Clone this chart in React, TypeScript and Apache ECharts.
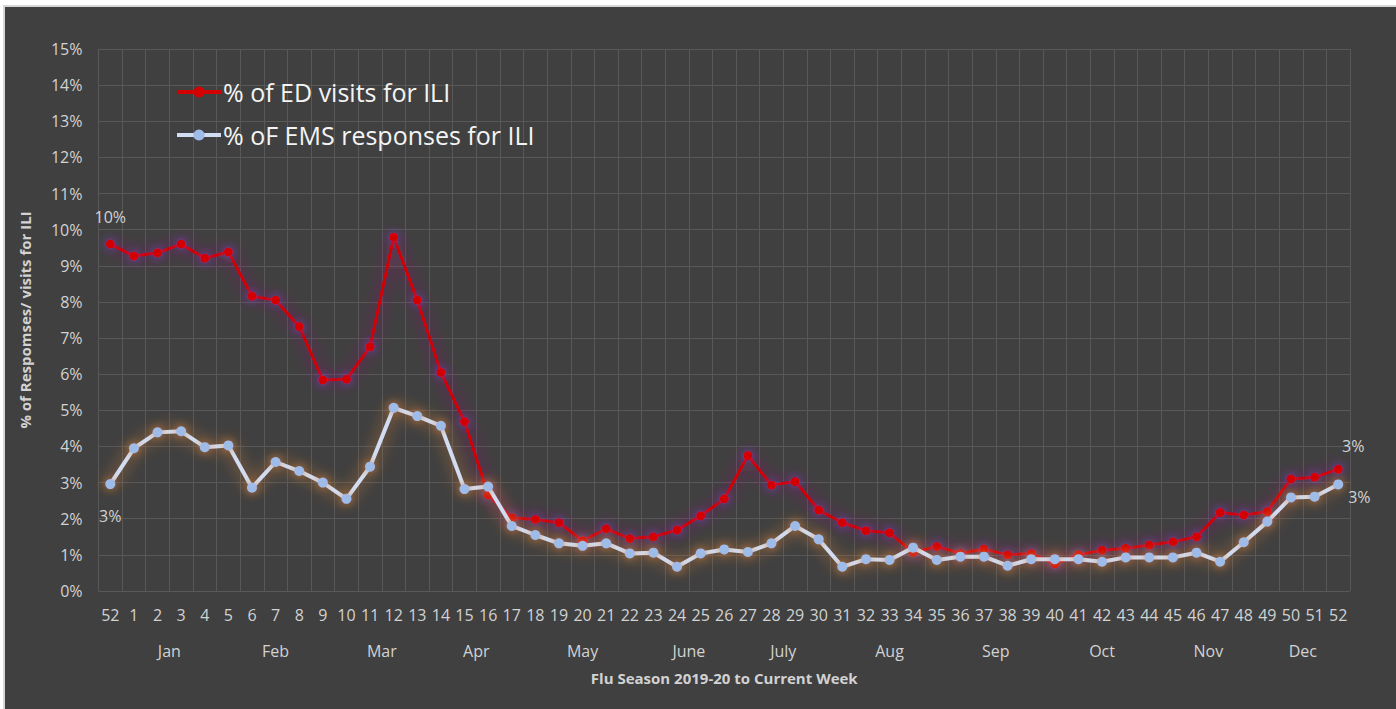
import React, { useEffect, useRef } from "react";
import * as echarts from "echarts";

const weeks = ["52", "1", "2", "3", "4", "5", "6", "7", "8", "9", "10", "11", "12", "13", "14", "15", "16", "17", "18", "19", "20", "21", "22", "23", "24", "25", "26", "27", "28", "29", "30", "31", "32", "33", "34", "35", "36", "37", "38", "39", "40", "41", "42", "43", "44", "45", "46", "47", "48", "49", "50", "51", "52"];

const edVisits = [9.6, 9.27, 9.36, 9.6, 9.21, 9.38, 8.16, 8.05, 7.32, 5.84, 5.86, 6.76, 9.79, 8.05, 6.05, 4.69, 2.66, 2.03, 1.98, 1.89, 1.39, 1.72, 1.45, 1.5, 1.69, 2.08, 2.55, 3.75, 2.93, 3.03, 2.24, 1.89, 1.67, 1.61, 1.07, 1.23, 1.04, 1.16, 1.0, 1.04, 0.75, 1.0, 1.13, 1.18, 1.27, 1.36, 1.5, 2.17, 2.1, 2.2, 3.1, 3.15, 3.37];

const emsResponses = [2.96, 3.95, 4.39, 4.42, 3.98, 4.03, 2.86, 3.57, 3.32, 3.0, 2.55, 3.44, 5.07, 4.84, 4.57, 2.82, 2.89, 1.8, 1.55, 1.32, 1.25, 1.32, 1.04, 1.06, 0.67, 1.04, 1.15, 1.08, 1.32, 1.8, 1.43, 0.67, 0.88, 0.86, 1.2, 0.86, 0.95, 0.95, 0.7, 0.88, 0.88, 0.88, 0.81, 0.93, 0.93, 0.93, 1.06, 0.81, 1.35, 1.92, 2.59, 2.61, 2.95];

const monthNames = ["Jan", "Feb", "Mar", "Apr", "May", "June", "July", "Aug", "Sep", "Oct", "Nov", "Dec"];
const monthPos = [2.5, 7, 11.5, 15.5, 20, 24.5, 28.5, 33, 37.5, 42, 46.5, 50.5];

const FONT = '"Open Sans", Lato, sans-serif';
const TXT = "#D2D2D2";

export default function App() {
  const ref = useRef<HTMLDivElement>(null);

  useEffect(() => {
    if (!ref.current) return;
    const chart = echarts.init(ref.current, null, { renderer: "svg" });
    const last = weeks.length - 1;
    const pctLabel = (p: any) => Math.round(p.value) + "%";

    const edData = edVisits.map((v, i) => {
      if (i === 0)
        return { value: v, label: { show: true, position: "top", distance: 15, formatter: pctLabel } };
      if (i === last)
        return { value: v, label: { show: true, position: "top", distance: 11, offset: [15, 0], formatter: pctLabel } };
      return v;
    });
    const emsData = emsResponses.map((v, i) => {
      if (i === 0)
        return { value: v, label: { show: true, position: "bottom", distance: 19, formatter: pctLabel } };
      if (i === last)
        return { value: v, label: { show: true, position: "right", distance: 5, offset: [0, 13], formatter: pctLabel } };
      return v;
    });

    const labelStyle = { color: TXT, fontSize: 16, fontFamily: FONT };

    chart.setOption({
      animation: false,
      backgroundColor: "transparent",
      textStyle: { fontFamily: FONT },
      grid: { left: 98.5, top: 49, width: 1251.5, height: 542, containLabel: false },
      legend: {
        orient: "vertical",
        left: 170,
        top: 72,
        itemWidth: 44,
        itemHeight: 14,
        itemGap: 13,
        lineStyle: { width: 4 },
        textStyle: { color: "#F4F4F4", fontSize: 25, fontFamily: FONT, lineHeight: 30, padding: [0, 0, 0, -3] },
        data: ["% of ED visits for ILI", "% oF EMS responses for ILI"],
      },
      xAxis: [
        {
          type: "category",
          data: weeks,
          boundaryGap: true,
          axisLine: { show: false },
          axisTick: { show: false },
          axisLabel: { interval: 0, color: TXT, fontSize: 16, fontFamily: FONT, margin: 16 },
          splitLine: { show: true, interval: 0, lineStyle: { color: "#585858", width: 1 } },
        },
        {
          type: "value",
          position: "bottom",
          min: -0.5,
          max: 52.5,
          axisLine: { show: false },
          axisTick: { show: false },
          splitLine: { show: false },
          axisLabel: {
            customValues: monthPos,
            color: TXT,
            fontSize: 16,
            fontFamily: FONT,
            margin: 52,
            formatter: (v: number) => {
              const k = monthPos.indexOf(v);
              return k >= 0 ? monthNames[k] : "";
            },
          },
          name: "Flu Season 2019-20 to Current Week",
          nameLocation: "middle",
          nameGap: 79,
          nameTextStyle: { color: TXT, fontSize: 15, fontWeight: "bold", fontFamily: FONT },
        },
      ],
      yAxis: {
        type: "value",
        min: 0,
        max: 15,
        interval: 1,
        axisLine: { show: false },
        axisTick: { show: false },
        axisLabel: { formatter: "{value}%", color: TXT, fontSize: 16, fontFamily: FONT, margin: 16 },
        splitLine: { show: true, lineStyle: { color: "#585858", width: 1 } },
        name: "% of Respomses/ visits for ILI",
        nameLocation: "middle",
        nameGap: 66,
        nameTextStyle: { color: TXT, fontSize: 15, fontWeight: "bold", fontFamily: FONT },
      },
      series: [
        {
          name: "% of ED visits for ILI",
          type: "line",
          xAxisIndex: 0,
          data: edData,
          symbol: "circle",
          symbolSize: 9,
          lineStyle: { color: "#D20000", width: 3, shadowColor: "rgba(170,30,130,0.95)", shadowBlur: 16 },
          itemStyle: { color: "#D20000", shadowColor: "rgba(120,70,210,0.9)", shadowBlur: 10 },
          label: labelStyle,
          z: 2,
        },
        {
          name: "% oF EMS responses for ILI",
          type: "line",
          xAxisIndex: 0,
          data: emsData,
          symbol: "circle",
          symbolSize: 10,
          lineStyle: { color: "#D3DDF1", width: 4, shadowColor: "rgba(220,130,55,0.95)", shadowBlur: 16 },
          itemStyle: { color: "#9FBBE8", shadowColor: "rgba(220,130,55,0.9)", shadowBlur: 10 },
          label: labelStyle,
          z: 3,
        },
      ],
    });
    return () => chart.dispose();
  }, []);

  return (
    <div style={{ position: "fixed", left: 0, top: 0, width: 1396, height: 709, background: "#ffffff", overflow: "hidden" }}>
      <div
        style={{
          position: "absolute",
          left: 3,
          top: 5,
          width: 1400,
          height: 710,
          background: "#404040",
          borderLeft: "2px solid #D6D6D6",
          borderTop: "2px solid #D6D6D6",
        }}
      />
      <div ref={ref} style={{ position: "absolute", left: 0, top: 0, width: 1396, height: 709 }} />
    </div>
  );
}
